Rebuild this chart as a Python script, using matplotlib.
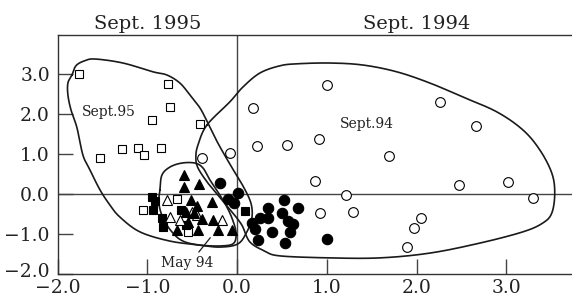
import numpy as np
import matplotlib
matplotlib.use("Agg")
import matplotlib.pyplot as plt
from matplotlib.transforms import blended_transform_factory, ScaledTranslation

# ---------------- data ----------------
# Sept. 1995 samples (open squares)
sq_open_x = [-1.757, -0.774, -0.748, -0.952, -0.414, -1.279, -1.100, -1.037, -0.848, -1.527, -1.052, -0.667, -0.544]
sq_open_y = [3.00, 2.76, 2.19, 1.86, 1.75, 1.12, 1.15, 0.975, 1.165, 0.90, -0.39, -0.11, -0.94]

# filled squares
sq_fill_x = [-0.952, -0.915, -0.934, -0.840, -0.823, -0.626, -0.570, 0.087]
sq_fill_y = [-0.06, -0.17, -0.393, -0.60, -0.81, -0.393, -0.77, -0.418]

# filled triangles
tri_fill_x = [-0.592, -0.592, -0.425, -0.281, -0.448, -0.514, -0.548, -0.392, -0.269, -0.670, -0.436, -0.214, -0.058, -0.481, -0.570]
tri_fill_y = [0.483, 0.183, 0.258, -0.193, -0.293, -0.143, -0.693, -0.618, -0.643, -0.893, -0.893, -0.893, -0.893, -0.468, -0.443]

# open triangles
tri_open_x = [-0.785, -0.748, -0.637, -0.507, -0.448, -0.164]
tri_open_y = [-0.143, -0.58, -0.643, -0.443, -0.518, -0.643]

# Sept. 1994 samples (open circles)
circ_open_x = [0.996, 0.172, 2.258, 2.658, 0.217, 0.558, 0.914, 1.690, -0.080, 0.866,
               1.208, 2.469, 3.022, 3.297, 0.922, 1.293, 2.043, 1.968, 1.894, -0.395]
circ_open_y = [2.73, 2.165, 2.30, 1.715, 1.208, 1.233, 1.375, 0.958, 1.025, 0.333,
               -0.018, 0.233, 0.308, -0.10, -0.475, -0.45, -0.60, -0.85, -1.31, 0.90]

# filled circles
circ_fill_x = [-0.191, -0.099, -0.036, 0.012, 0.161, 0.198, 0.253, 0.346, 0.346, 0.235,
               0.384, 0.524, 0.495, 0.569, 0.625, 0.673, 0.588, 0.532, 1.005]
circ_fill_y = [0.275, -0.118, -0.225, 0.025, -0.725, -0.868, -0.60, -0.35, -0.60, -1.143,
               -0.935, -0.143, -0.475, -0.668, -0.743, -0.335, -0.955, -1.218, -1.125]

# group outlines (hand-drawn envelopes)
env95_x = [-1.839, -1.795, -1.705, -1.583, -1.271, -0.937, -0.781, -0.637, -0.525, -0.414,
           -0.325, -0.214, -0.069, 0.065, 0.154, 0.165, 0.109, 0.009, -0.191, -0.414,
           -0.748, -1.082, -1.305, -1.416, -1.527, -1.639, -1.717, -1.783, -1.850, -1.884, -1.884]
env95_y = [2.98, 3.21, 3.33, 3.38, 3.28, 3.06, 2.98, 2.78, 2.48, 2.16,
           1.78, 1.28, 0.71, 0.21, -0.22, -0.59, -0.94, -1.24, -1.32, -1.27,
           -1.17, -0.94, -0.57, -0.27, 0.11, 0.61, 0.98, 1.66, 2.11, 2.48, 2.78]

env94_x = [-0.336, -0.080, 0.065, 0.254, 0.476, 0.666, 1.033, 1.401, 1.779, 2.147, 2.514,
           2.892, 3.182, 3.371, 3.505, 3.538, 3.505, 3.404, 3.182, 2.704, 2.147, 1.590,
           1.033, 0.476, 0.309, 0.142, 0.053, -0.058, -0.214, -0.325, -0.436, -0.459, -0.436]
env94_y = [1.73, 2.31, 2.68, 3.03, 3.21, 3.26, 3.28, 3.23, 3.06, 2.78, 2.43,
           2.06, 1.61, 1.11, 0.53, 0.03, -0.47, -0.72, -0.94, -1.22, -1.47, -1.59,
           -1.59, -1.54, -1.42, -1.19, -0.77, -0.44, -0.02, 0.28, 0.66, 0.93, 1.23]

envmay_x = [-0.859, -0.837, -0.748, -0.615, -0.470, -0.381, -0.303, -0.214, -0.125, -0.058,
            -0.013, -0.036, -0.169, -0.414, -0.603, -0.726, -0.826, -0.871]
envmay_y = [0.11, 0.48, 0.68, 0.78, 0.78, 0.66, 0.36, 0.06, -0.27, -0.59,
            -0.94, -1.22, -1.29, -1.27, -1.17, -0.94, -0.59, -0.22]

x_ticks = [-2.0, -1.0, 0.0, 1.0, 2.0, 3.0]
y_ticks = [-2.0, -1.0, 0.0, 1.0, 2.0, 3.0]
x_ticklabels = ["\u22122.0", "\u22121.0", "0.0", "1.0", "2.0", "3.0"]
y_ticklabels = ["\u22122.0", "\u22121.0", "0.0", "1.0", "2.0", "3.0"]

top_labels = ["Sept. 1995", "Sept. 1994"]
top_label_x = [-1.0, 2.0]

group_labels = ["Sept.95", "Sept.94", "May 94"]
group_label_x = [-1.43, 1.45, -0.553]
group_label_y = [2.06, 1.76, -1.73]
may_leader_x = [-0.425, -0.30]
may_leader_y = [-1.44, -1.09]


def closed_spline(xs, ys, n=24):
    P = np.column_stack([xs, ys])
    m = len(P)
    t = np.linspace(0, 1, n, endpoint=False)[:, None]
    out = []
    for i in range(m):
        p0, p1, p2, p3 = P[i - 1], P[i], P[(i + 1) % m], P[(i + 2) % m]
        seg = 0.5 * ((2 * p1) + (-p0 + p2) * t + (2 * p0 - 5 * p1 + 4 * p2 - p3) * t ** 2
                     + (-p0 + 3 * p1 - 3 * p2 + p3) * t ** 3)
        out.append(seg)
    out = np.vstack(out + [P[:1]])
    return out[:, 0], out[:, 1]


plt.rcParams['font.family'] = ['DejaVu Serif']
TXT = '#222222'
LINE = '#1a1a1a'

fig = plt.figure(figsize=(5.72, 3.03), dpi=100)
ax = fig.add_axes([57.5 / 572, 28.7 / 303, 1 - 57.5 / 572, (274.3 - 35) / 303])
ax.set_xlim(-2.0, 3.73)
ax.set_ylim(-2.0, 3.98)

# reference axes through origin
ax.axhline(0, color='#444444', lw=1.0, zorder=1)
ax.axvline(0, color='#444444', lw=1.0, zorder=1)

for ex, ey in [(env95_x, env95_y), (env94_x, env94_y), (envmay_x, envmay_y)]:
    cx, cy = closed_spline(ex, ey)
    ax.plot(cx, cy, color=LINE, lw=1.2, zorder=2)

ax.plot(may_leader_x, may_leader_y, color=LINE, lw=0.9, zorder=2)

mk = dict(ls='none', mew=0.8, mec='black', zorder=4)
ax.plot(circ_open_x, circ_open_y, marker='o', ms=7, mfc='white', **mk)
ax.plot(circ_fill_x, circ_fill_y, marker='o', ms=7.5, mfc='black', **mk)
ax.plot(sq_open_x, sq_open_y, marker='s', ms=6, mfc='white', **mk)
ax.plot(sq_fill_x, sq_fill_y, marker='s', ms=6, mfc='black', **mk)
ax.plot(tri_open_x, tri_open_y, marker='^', ms=7.5, mfc='white', **mk)
ax.plot(tri_fill_x, tri_fill_y, marker='^', ms=7.5, mfc='black', **mk)

for s, gx, gy in zip(group_labels, group_label_x, group_label_y):
    ax.text(gx, gy, s, ha='center', va='center', fontsize=10, color=TXT, zorder=5)

trans = blended_transform_factory(ax.transData, ax.transAxes)
for s, tx in zip(top_labels, top_label_x):
    ax.annotate(s, xy=(tx, 1.0), xycoords=trans, xytext=(0, 4), textcoords='offset points',
                ha='center', va='baseline', fontsize=14, color=TXT)

ax.set_xticks(x_ticks)
ax.set_xticklabels(x_ticklabels)
ax.set_yticks(y_ticks)
ax.set_yticklabels(y_ticklabels)
ax.tick_params(axis='both', direction='in', length=10.8, width=1.0, color='#444444',
               labelsize=13.5, labelcolor=TXT)
ax.tick_params(axis='y', pad=5.4)
ax.tick_params(axis='x', pad=3.5)

# nudge the two corner "−2.0" labels apart so they do not collide
ylab0 = ax.get_yticklabels()[0]
ylab0.set_transform(ylab0.get_transform() + ScaledTranslation(0, 3 / 72, fig.dpi_scale_trans))

for side in ['left', 'bottom', 'top']:
    ax.spines[side].set_color('#333333')
    ax.spines[side].set_linewidth(1.0)
ax.spines['right'].set_visible(False)

fig.savefig('out.png', dpi=100)
